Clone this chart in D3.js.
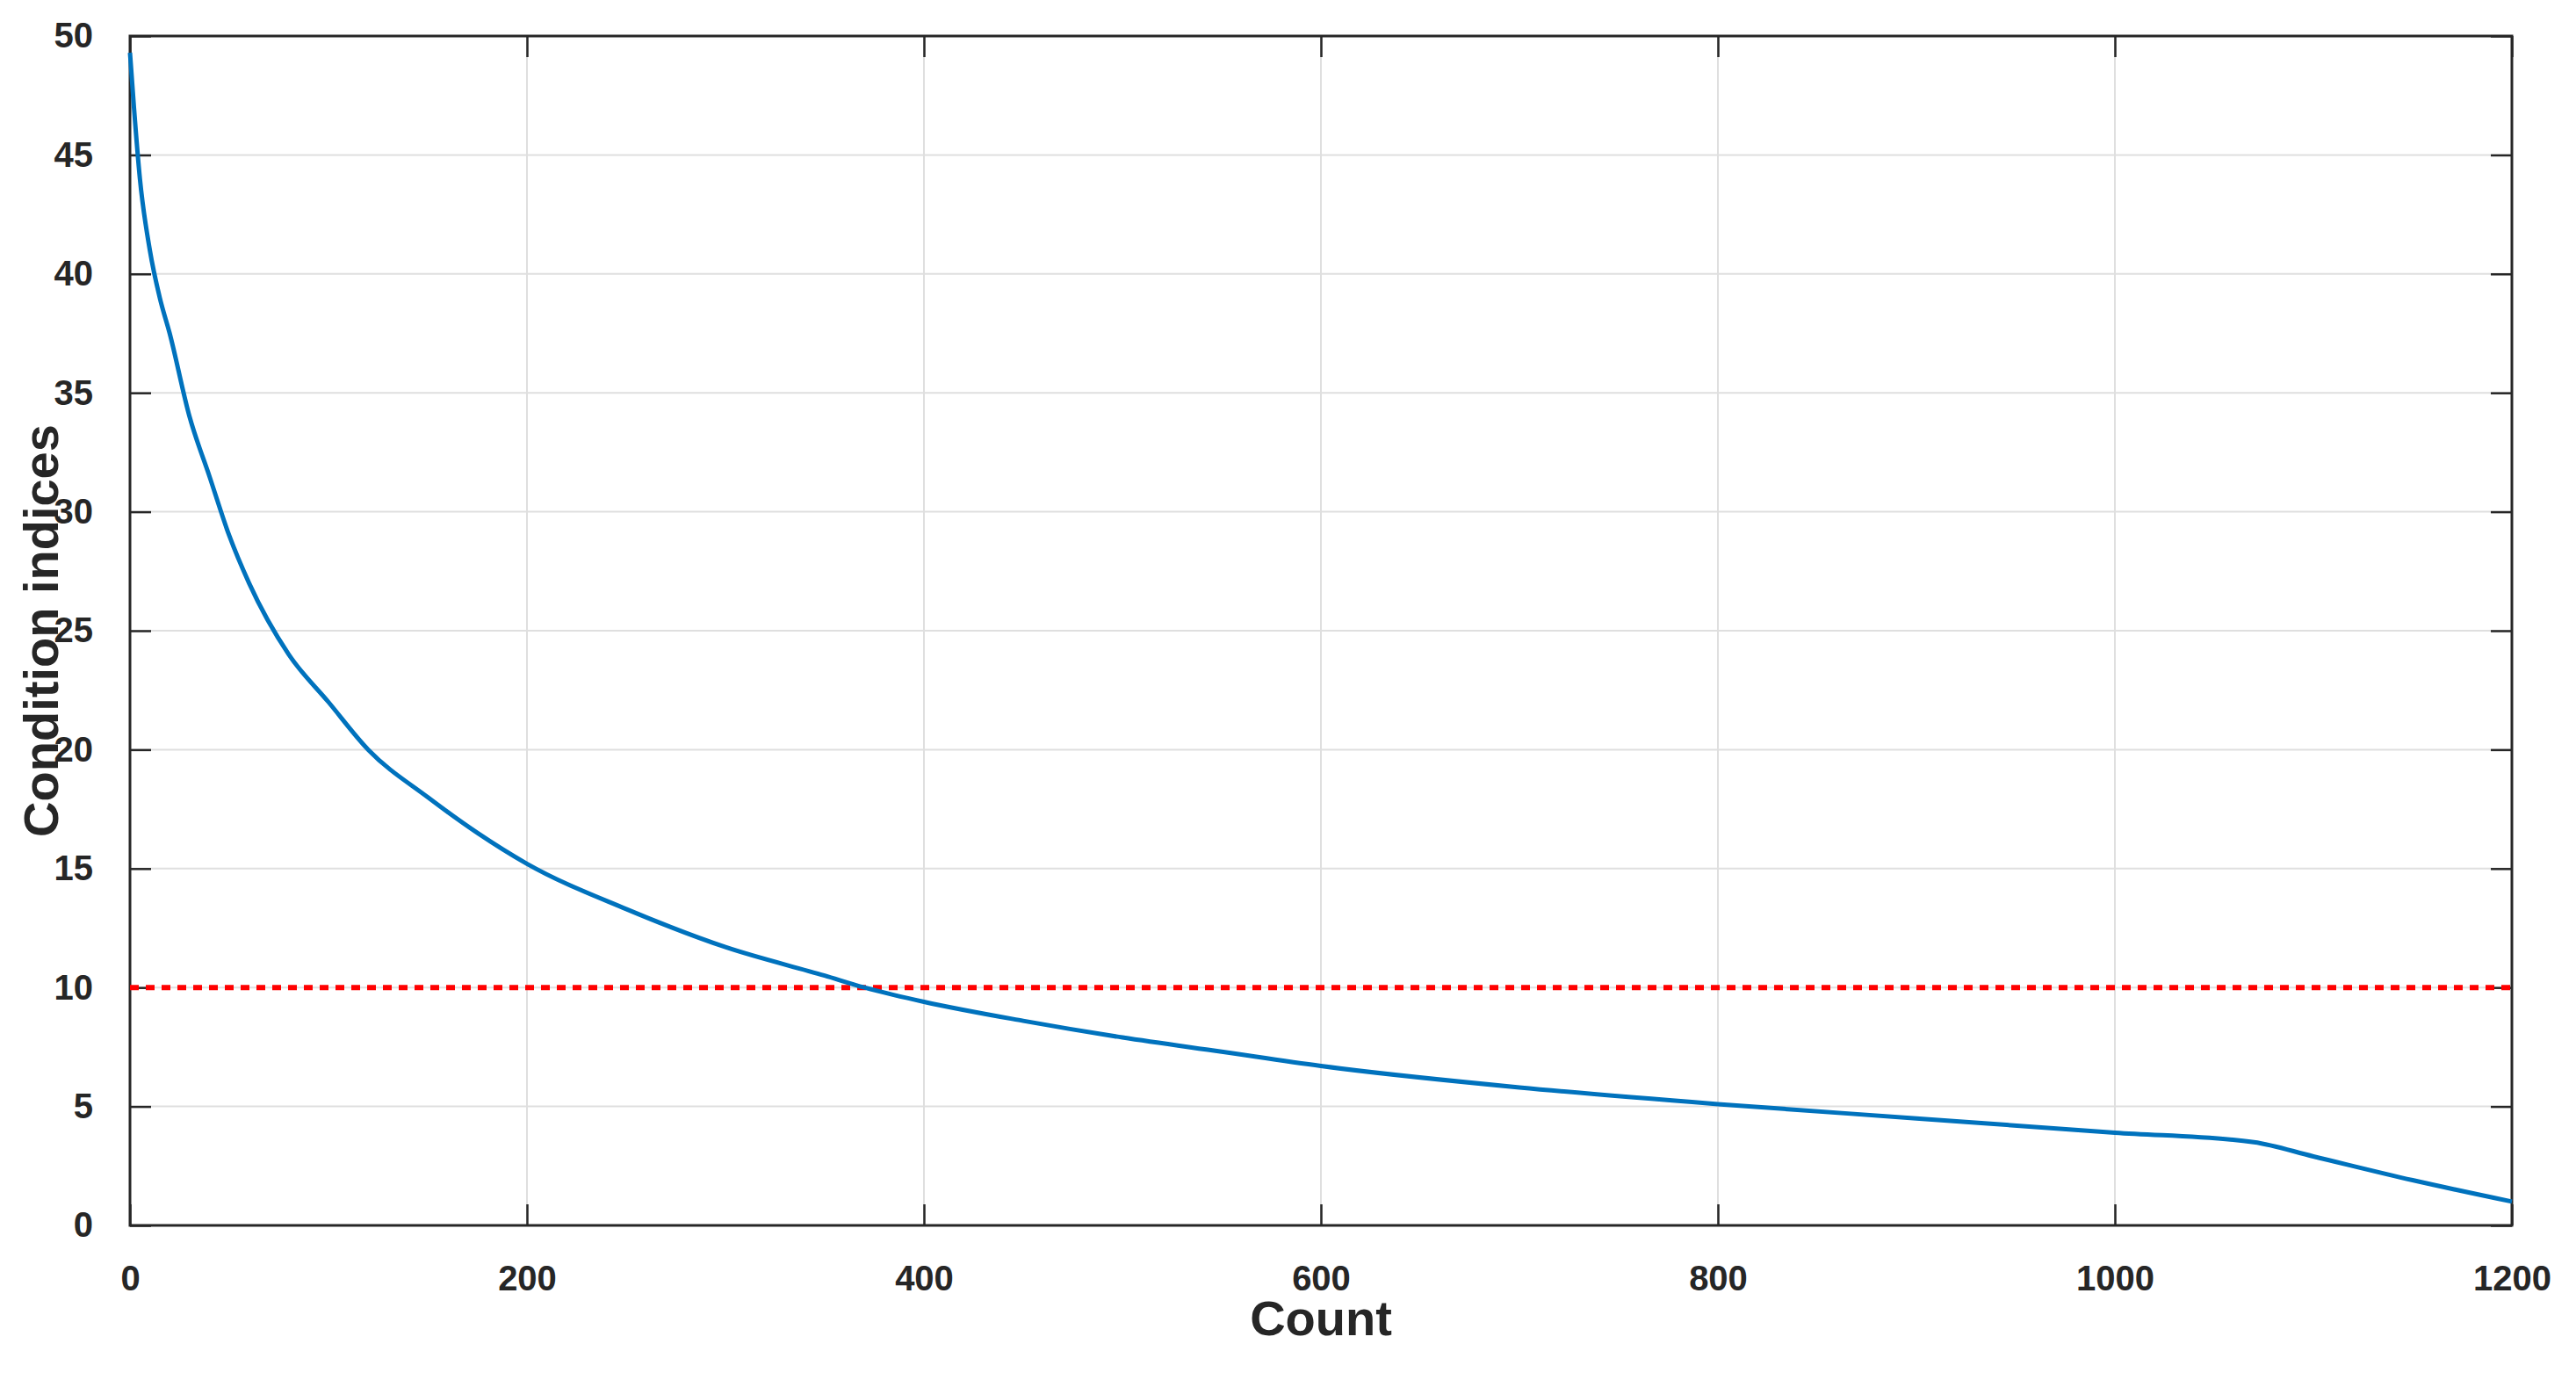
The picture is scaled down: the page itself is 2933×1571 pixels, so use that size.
<!DOCTYPE html>
<html>
<head>
<meta charset="utf-8">
<script src="https://cdn.jsdelivr.net/npm/d3@7"></script>
<style>
  body { margin: 0; background: #fff; }
  text { font-family: Arial, "Liberation Sans", sans-serif; font-weight: bold; fill: #262626; }
</style>
</head>
<body>
<svg width="2933" height="1571"></svg>
<script>
// curve (count, condition index)
const counts = [0, 2, 5, 10, 15, 20, 30, 40, 50, 60, 80, 100, 120, 150, 175, 200, 250, 300, 350, 370, 400, 450, 500, 550, 600, 700, 800, 900, 1000, 1070, 1100, 1150, 1200];
const indices = [49.3, 47, 44, 41, 39, 37.5, 34, 31.5, 29, 27, 24, 22, 20, 18, 16.5, 15.2, 13.3, 11.7, 10.5, 10, 9.4, 8.6, 7.9, 7.3, 6.7, 5.8, 5.1, 4.5, 3.9, 3.5, 2.9, 1.9, 1.0];
const threshold = 10;
const xTicks = [0, 200, 400, 600, 800, 1000, 1200];
const yTicks = [0, 5, 10, 15, 20, 25, 30, 35, 40, 45, 50];

const pLeft = 148, pRight = 2860, pTop = 41, pBottom = 1395;
const svg = d3.select("svg");
const x = d3.scaleLinear().domain([0, 1200]).range([pLeft, pRight]);
const y = d3.scaleLinear().domain([0, 50]).range([pBottom, pTop]);

// grid
svg.append("g").selectAll("line").data(xTicks.slice(1, -1)).enter().append("line")
  .attr("x1", d => x(d)).attr("x2", d => x(d)).attr("y1", pTop).attr("y2", pBottom)
  .attr("stroke", "#dfdfdf").attr("stroke-width", 2);
svg.append("g").selectAll("line").data(yTicks.slice(1, -1)).enter().append("line")
  .attr("y1", d => y(d)).attr("y2", d => y(d)).attr("x1", pLeft).attr("x2", pRight)
  .attr("stroke", "#dfdfdf").attr("stroke-width", 2);

// axes, ticks pointing inward on all four sides
function styleAxis(g) {
  g.select(".domain").remove();
  g.selectAll(".tick line").attr("stroke", "#262626").attr("stroke-width", 2.5);
  g.selectAll(".tick text").style("font-size", "40px").attr("fill", "#262626");
}
svg.append("g").attr("transform", `translate(0,${pBottom})`)
  .call(d3.axisBottom(x).tickValues(xTicks).tickSizeInner(-24).tickPadding(46).tickFormat(d3.format("d")))
  .call(styleAxis);
svg.append("g").attr("transform", `translate(0,${pTop})`)
  .call(d3.axisTop(x).tickValues(xTicks).tickSizeInner(-24).tickFormat(""))
  .call(styleAxis);
svg.append("g").attr("transform", `translate(${pLeft},0)`)
  .call(d3.axisLeft(y).tickValues(yTicks).tickSizeInner(-24).tickPadding(42))
  .call(styleAxis);
svg.append("g").attr("transform", `translate(${pRight},0)`)
  .call(d3.axisRight(y).tickValues(yTicks).tickSizeInner(-24).tickFormat(""))
  .call(styleAxis);

svg.append("rect").attr("x", pLeft).attr("y", pTop).attr("width", pRight - pLeft).attr("height", pBottom - pTop)
  .attr("fill", "none").attr("stroke", "#262626").attr("stroke-width", 3);

// threshold
svg.append("line").attr("x1", x(0)).attr("x2", x(1200)).attr("y1", y(threshold)).attr("y2", y(threshold))
  .attr("stroke", "#ff0000").attr("stroke-width", 6).attr("stroke-dasharray", "10,8");

// curve
const line = d3.line().x(d => x(d[0])).y(d => y(d[1])).curve(d3.curveMonotoneX);
svg.append("path").datum(d3.zip(counts, indices)).attr("d", line)
  .attr("fill", "none").attr("stroke", "#0072bd").attr("stroke-width", 5);

// labels
svg.append("text").attr("x", (pLeft + pRight) / 2).attr("y", 1520).attr("text-anchor", "middle")
  .style("font-size", "56px").text("Count");
svg.append("text").attr("transform", `translate(66,${(pTop + pBottom) / 2}) rotate(-90)`)
  .attr("text-anchor", "middle").style("font-size", "56px").text("Condition indices");
</script>
</body>
</html>
